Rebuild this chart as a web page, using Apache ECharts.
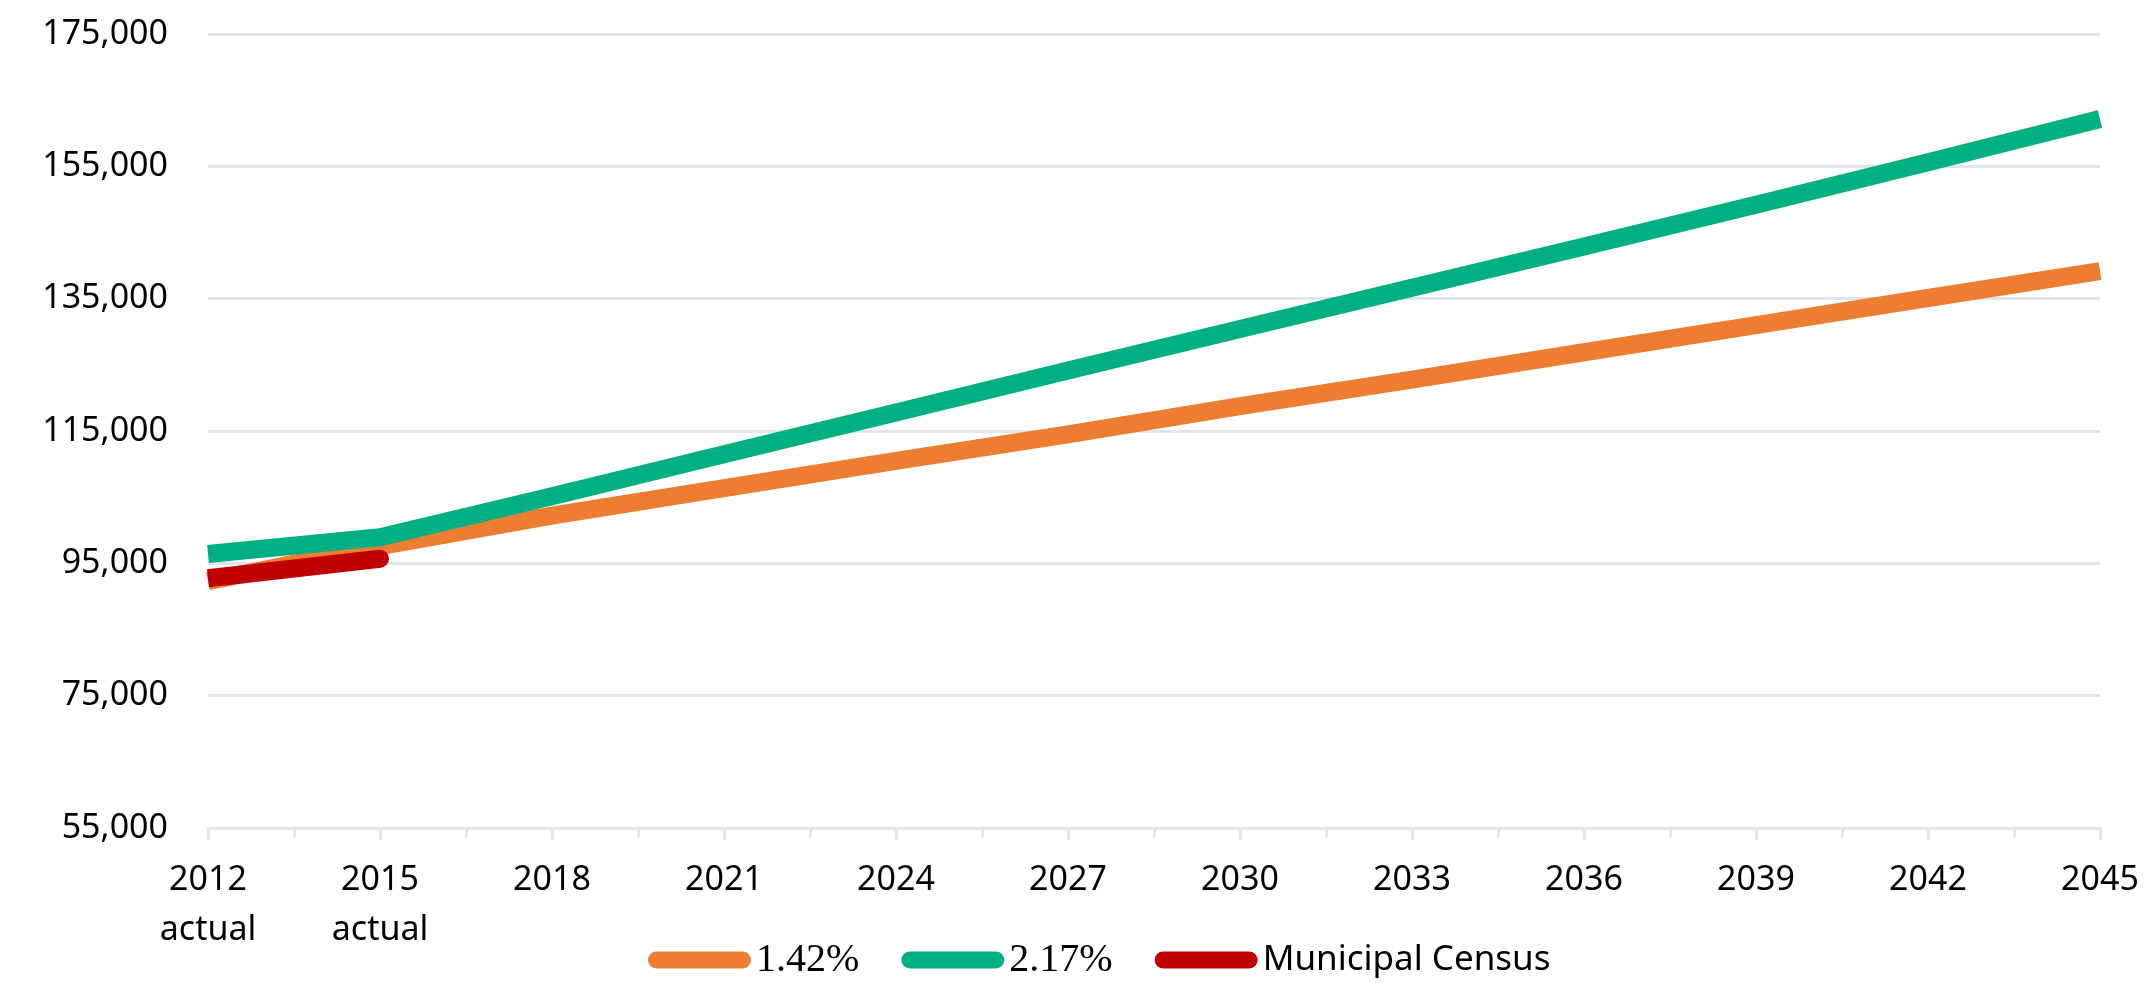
<!DOCTYPE html>
<html>
<head>
    <meta charset="UTF-8">
    <title>Population projection</title>
    <script type="text/javascript" src="https://cdn.jsdelivr.net/npm/echarts@6/dist/echarts.min.js"></script>
    <style type="text/css">
        html, body {
            margin: 0;
            padding: 0;
            background: #ffffff;
        }
        #chart {
            width: 2147px;
            height: 990px;
        }
    </style>
</head>
<body>
<div id="chart"></div>
<script type="text/javascript">
    // years on the x axis, labelled every 3 years
    var years = [2012, 2015, 2018, 2021, 2024, 2027, 2030, 2033, 2036, 2039, 2042, 2045];
    var actualYears = [2012, 2015];

    // series values
    var growth142 = [92300, 97600, 102200, 106350, 110500, 114500, 118750, 122750, 126900, 131000, 135100, 139150];
    var growth217 = [96400, 98950, 105150, 111500, 117800, 124150, 130400, 136650, 142900, 149200, 155600, 162150];
    var censusYears = [2012, 2015];
    var census = [92750, 95700];

    var seriesNames = ['1.42%', '2.17%', 'Municipal Census'];

    // y axis ticks
    var yMin = 55000, yMax = 175000, yStep = 20000;

    function pairs(xs, ys) {
        return xs.map(function (x, i) { return [x, ys[i]]; });
    }

    var gridColor = '#e0e4eb';
    // legend marker: long pill with fully rounded ends
    var pill = 'path://M8.5,0 H94.5 A8.5,8.5 0 0 1 94.5,17 H8.5 A8.5,8.5 0 0 1 8.5,0 Z';

    // census line: flat start, rounded end like the original
    var censusData = pairs(censusYears, census).map(function (p, i) {
        return i === census.length - 1 ? {value: p, symbol: 'circle', symbolSize: 18} : {value: p, symbol: 'none'};
    });

    var chart = echarts.init(document.getElementById('chart'), null, {renderer: 'canvas'});
    chart.setOption({
        animation: false,
        backgroundColor: '#ffffff',
        grid: {left: 208, right: 47, top: 34, bottom: 162, containLabel: false, outerBoundsMode: 'none'},
        legend: {
            left: 648,
            top: 940,
            padding: 0,
            itemWidth: 103,
            itemHeight: 17,
            itemGap: 42,
            icon: pill,
            data: seriesNames,
            formatter: function (name) {
                return name === 'Municipal Census' ? '{n|' + name + '}' : '{s|' + name + '}';
            },
            textStyle: {
                color: '#000',
                rich: {
                    s: {fontFamily: 'Liberation Serif', fontSize: 40, color: '#000'},
                    n: {fontFamily: 'Noto Sans', fontSize: 35, color: '#000'}
                }
            }
        },
        xAxis: {
            type: 'value',
            min: years[0],
            max: years[years.length - 1],
            interval: 3,
            axisLine: {show: true, lineStyle: {color: gridColor, width: 3}},
            axisTick: {show: true, length: 12, lineStyle: {color: gridColor, width: 3}},
            minorTick: {show: true, splitNumber: 2, length: 9, lineStyle: {color: gridColor, width: 3}},
            splitLine: {show: false},
            axisLabel: {
                margin: 27,
                color: '#000',
                fontFamily: 'Noto Sans',
                fontSize: 34,
                lineHeight: 50,
                formatter: function (v) {
                    return actualYears.indexOf(v) >= 0 ? v + '\nactual' : String(v);
                }
            }
        },
        yAxis: {
            type: 'value',
            min: yMin,
            max: yMax,
            interval: yStep,
            axisLine: {show: false},
            axisTick: {show: false},
            splitLine: {show: true, lineStyle: {color: gridColor, width: 3}},
            axisLabel: {
                margin: 40,
                color: '#000',
                fontFamily: 'Noto Sans',
                fontSize: 34,
                formatter: function (v) {
                    return v.toLocaleString('en-US');
                }
            }
        },
        series: [
            {
                name: seriesNames[0],
                type: 'line',
                data: pairs(years, growth142),
                symbol: 'none',
                color: '#ED7D31',
                lineStyle: {width: 18, color: '#ED7D31', cap: 'butt', join: 'round'}
            },
            {
                name: seriesNames[1],
                type: 'line',
                data: pairs(years, growth217),
                symbol: 'none',
                color: '#00B083',
                lineStyle: {width: 18, color: '#00B083', cap: 'butt', join: 'round'}
            },
            {
                name: seriesNames[2],
                type: 'line',
                data: censusData,
                showSymbol: true,
                symbol: 'none',
                color: '#C00000',
                itemStyle: {color: '#C00000'},
                lineStyle: {width: 18, color: '#C00000', cap: 'butt', join: 'round'}
            }
        ]
    });
</script>
</body>
</html>
